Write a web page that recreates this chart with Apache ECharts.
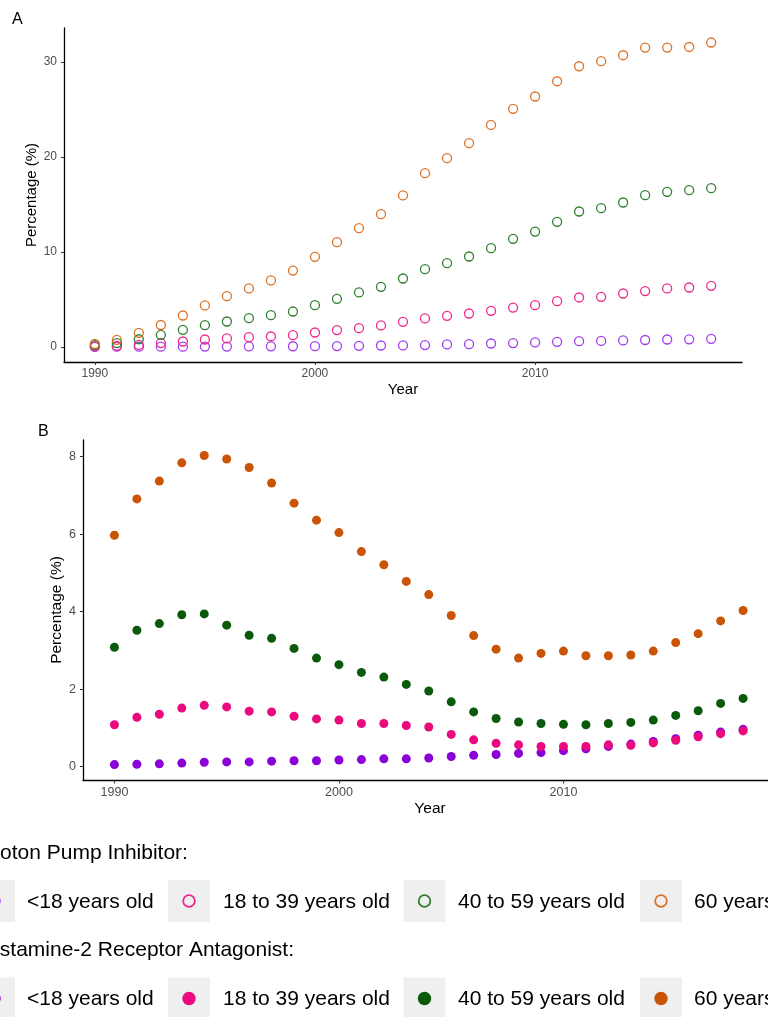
<!DOCTYPE html>
<html>
<head>
<meta charset="utf-8">
<script src="https://cdn.jsdelivr.net/npm/echarts@6/dist/echarts.min.js"></script>
<style>
html,body{margin:0;padding:0;background:#fff}
#main{width:768px;height:1017px}
</style>
</head>
<body>
<div id="main"></div>
<script>
// years on the x axis
const years = [1990,1991,1992,1993,1994,1995,1996,1997,1998,1999,
  2000,2001,2002,2003,2004,2005,2006,2007,2008,2009,
  2010,2011,2012,2013,2014,2015,2016,2017,2018];
const yearTicks = [1990, 2000, 2010];
const ticksA = [0, 10, 20, 30];
const ticksB = [0, 2, 4, 6, 8];

// A: proton pump inhibitor (%)
const ppiUnder18 = [0.00,0.01,0.02,0.02,0.02,0.03,0.03,0.04,0.05,0.06,
  0.07,0.08,0.10,0.14,0.15,0.18,0.25,0.28,0.35,0.39,
  0.46,0.53,0.60,0.62,0.67,0.72,0.77,0.79,0.84];
const ppi18to39 = [0.04,0.10,0.20,0.39,0.56,0.77,0.88,1.02,1.09,1.23,
  1.51,1.76,1.97,2.25,2.63,2.99,3.27,3.51,3.79,4.14,
  4.39,4.81,5.20,5.27,5.62,5.87,6.15,6.25,6.43];
const ppi40to59 = [0.18,0.39,0.80,1.26,1.79,2.28,2.67,3.02,3.34,3.72,
  4.39,5.06,5.73,6.32,7.20,8.18,8.82,9.52,10.40,11.38,
  12.15,13.17,14.26,14.61,15.21,15.98,16.33,16.51,16.72];
const ppi60plus = [0.30,0.74,1.48,2.30,3.30,4.36,5.34,6.15,7.00,8.04,
  9.48,11.03,12.50,13.98,15.95,18.30,19.88,21.46,23.39,25.08,
  26.38,27.99,29.57,30.10,30.73,31.54,31.54,31.60,32.07];

// B: histamine-2 receptor antagonist (%)
const h2Under18 = [0.05,0.06,0.07,0.09,0.11,0.12,0.12,0.14,0.15,0.15,
  0.17,0.18,0.20,0.20,0.22,0.26,0.29,0.31,0.34,0.36,
  0.41,0.46,0.52,0.58,0.65,0.72,0.81,0.89,0.96];
const h2_18to39 = [1.08,1.27,1.35,1.51,1.58,1.54,1.43,1.41,1.30,1.23,
  1.20,1.11,1.11,1.06,1.02,0.83,0.69,0.60,0.56,0.52,
  0.52,0.52,0.56,0.55,0.61,0.68,0.77,0.85,0.92];
const h2_40to59 = [3.08,3.52,3.69,3.92,3.94,3.65,3.39,3.31,3.05,2.80,
  2.63,2.43,2.31,2.12,1.95,1.67,1.41,1.24,1.15,1.11,
  1.09,1.08,1.11,1.14,1.20,1.32,1.44,1.63,1.76];
const h2_60plus = [5.97,6.91,7.37,7.84,8.03,7.94,7.72,7.32,6.80,6.36,
  6.04,5.55,5.21,4.78,4.44,3.90,3.38,3.03,2.80,2.92,
  2.98,2.86,2.86,2.88,2.98,3.20,3.43,3.76,4.03];

const ageGroups = ['<18 years old', '18 to 39 years old', '40 to 59 years old', '60 years old'];
const legendTitles = ['Proton Pump Inhibitor:', 'Histamine-2 Receptor Antagonist:'];

const hollowColors = ['#a23cf2', '#f0288c', '#2f7f2f', '#dc7228'];
const solidColors = ['#8a00d6', '#ea0a7e', '#0b5a0b', '#c95406'];
const FONT = '"Liberation Sans", Arial, Helvetica, sans-serif';

let chart = echarts.init(document.getElementById('main'), null, {renderer: 'canvas'});

function pts(arr){
  return years.map(function(y, i){ return [y, arr[i]]; });
}

function xAxisOf(gi, max, fs){
  return {
    type: 'value', gridIndex: gi, min: 1988.6, max: max,
    axisLine: {show: true, onZero: false, lineStyle: {color: '#000', width: 1.3}},
    axisTick: {show: true, length: 3, customValues: yearTicks, lineStyle: {color: '#333'}},
    axisLabel: {customValues: yearTicks, color: '#4d4d4d', fontSize: fs, fontFamily: FONT, margin: 6,
      formatter: function(v){ return String(v); }},
    splitLine: {show: false}
  };
}
function yAxisOf(gi, min, max, ticks, fs){
  return {
    type: 'value', gridIndex: gi, min: min, max: max,
    axisLine: {show: true, onZero: false, lineStyle: {color: '#000', width: 1.3}},
    axisTick: {show: true, length: 3, customValues: ticks, lineStyle: {color: '#333'}},
    axisLabel: {customValues: ticks, color: '#4d4d4d', fontSize: fs, fontFamily: FONT, margin: 7},
    splitLine: {show: false}
  };
}

const ppiSets = [ppiUnder18, ppi18to39, ppi40to59, ppi60plus];
const h2Sets = [h2Under18, h2_18to39, h2_40to59, h2_60plus];
let series = [];
ppiSets.forEach(function(arr, i){
  series.push({
    name: 'PPI ' + ageGroups[i], type: 'scatter', xAxisIndex: 0, yAxisIndex: 0,
    data: pts(arr), symbol: 'circle', symbolSize: 9,
    itemStyle: {color: 'rgba(0,0,0,0)', borderColor: hollowColors[i], borderWidth: 1.3, opacity: 1},
    emphasis: {disabled: true}
  });
});
h2Sets.forEach(function(arr, i){
  series.push({
    name: 'H2RA ' + ageGroups[i], type: 'scatter', xAxisIndex: 1, yAxisIndex: 1,
    data: pts(arr), symbol: 'circle', symbolSize: 9,
    itemStyle: {color: solidColors[i], opacity: 1},
    emphasis: {disabled: true}
  });
});

// legend made of grey key boxes, circles and labels
const keyX = [-27, 168, 403.5, 640];
const textX = [27, 223, 458, 694];
const rowsY = [901, 998.5];
const titleY = [853, 950];
const titleX = [-21, -20];
let graphics = [];
function txt(s, x, y, size, opts){
  let o = {type: 'text', x: x, y: y, silent: true,
    style: {text: s, font: size + 'px ' + FONT, fill: '#000', align: 'left', verticalAlign: 'middle'}};
  if (opts) Object.assign(o.style, opts.style || {}), o.rotation = opts.rotation || 0;
  return o;
}
legendTitles.forEach(function(t, r){
  graphics.push(txt(t, titleX[r], titleY[r], 21));
  ageGroups.forEach(function(g, i){
    graphics.push({type: 'rect', silent: true, shape: {x: keyX[i], y: rowsY[r] - 21, width: 42, height: 42},
      style: {fill: '#efefef'}});
    let cstyle = r === 0
      ? {fill: 'none', stroke: hollowColors[i], lineWidth: 1.8}
      : {fill: solidColors[i]};
    graphics.push({type: 'circle', silent: true, shape: {cx: keyX[i] + 21, cy: rowsY[r], r: r === 0 ? 5.8 : 6.7}, style: cstyle});
    graphics.push(txt(g, textX[i], rowsY[r] + 1, 21));
  });
});
// panel letters and axis titles
graphics.push(txt('A', 12, 20, 16));
graphics.push(txt('B', 38, 432, 16));
graphics.push(txt('Year', 403, 390, 15, {style: {align: 'center'}}));
graphics.push(txt('Year', 430, 809, 15.5, {style: {align: 'center'}}));
graphics.push(txt('Percentage (%)', 32, 195, 15, {style: {align: 'center'}, rotation: Math.PI / 2}));
graphics.push(txt('Percentage (%)', 57, 610, 15.5, {style: {align: 'center'}, rotation: Math.PI / 2}));

let option = {
  backgroundColor: '#fff',
  animation: false,
  grid: [
    {left: 64, top: 28, width: 678, height: 334},
    {left: 83, top: 440, right: 0, height: 340.5}
  ],
  xAxis: [xAxisOf(0, 2019.4, 12), xAxisOf(1, 2019.11, 12.5)],
  yAxis: [yAxisOf(0, -1.6, 33.6, ticksA, 12), yAxisOf(1, -0.36, 8.43, ticksB, 12.5)],
  series: series,
  graphic: graphics
};
chart.setOption(option);
</script>
</body>
</html>
